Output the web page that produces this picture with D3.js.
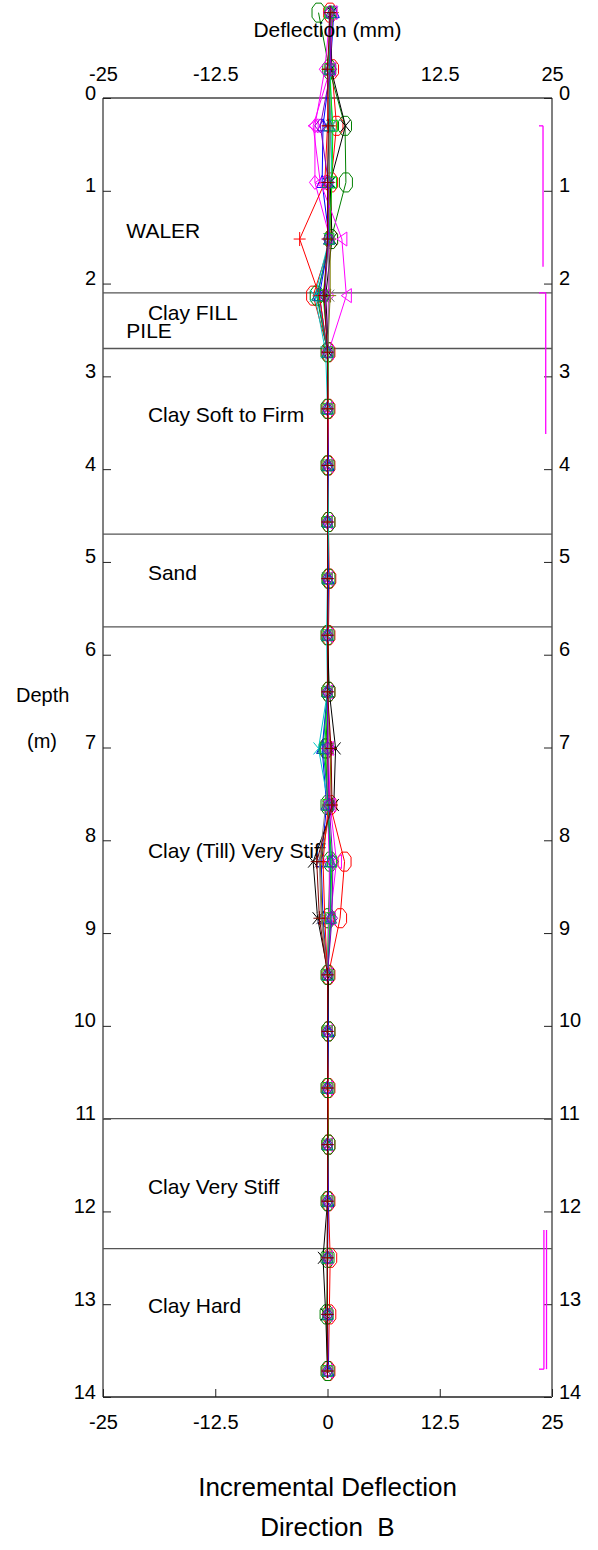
<!DOCTYPE html>
<html>
<head>
<meta charset="utf-8">
<script src="https://cdn.jsdelivr.net/npm/d3@7"></script>
<style>
  body { margin: 0; background: #fff; }
  text { font-family: "Liberation Sans", Arial, sans-serif; fill: #000; white-space: pre; }
</style>
</head>
<body>
<div id="chart"></div>
<script>
// depths of the probe readings (m)
var depth = [-0.92, -0.31, 0.30, 0.91, 1.52, 2.13, 2.74, 3.35, 3.96, 4.57, 5.18, 5.79, 6.40,
             7.01, 7.62, 8.23, 8.84, 9.45, 10.06, 10.67, 11.28, 11.89, 12.50, 13.11, 13.72];

// incremental deflection per reading (mm)
var redOct    = [0.3, 0.5, 1.0, 0.4, 0.4, -1.6, 0.1, 0.1, 0.1, 0.1, 0.2, 0.1, 0.1, -0.1, 0.3, 1.9, 1.4, 0.1, 0.1, 0.1, 0.1, 0.1, 0.3, 0.2, 0.1];
var greenOct  = [-1.0, 0.2, 1.95, 2.05, 0.4, -1.2, 0.0, 0.0, 0.0, 0.1, 0.1, 0.0, 0.1, -0.2, 0.0, 0.3, 0.1, 0.0, 0.1, 0.0, 0.1, 0.0, 0.0, -0.1, 0.0];
var blueTri   = [0.7, 0.3, -0.5, -0.6, 0.2, -0.9, 0.0, 0.0, 0.1, 0.0, 0.1, 0.0, 0.0, -0.6, -0.1, -0.7, -0.5, 0.0, 0.1, 0.0, 0.0, 0.1, 0.0, 0.0, 0.1];
var cyanX     = [0.6, 0.3, 0.5, 0.4, 0.2, -1.4, -0.2, 0.0, 0.0, 0.1, 0.0, -0.1, 0.0, -1.0, 0.1, 0.4, 0.2, 0.0, 0.0, 0.0, 0.0, 0.0, 0.0, 0.0, 0.0];
var magDiam   = [0.3, -0.3, -1.4, -1.4, 0.3, 0.1, 0.0, 0.0, 0.0, 0.0, 0.0, 0.0, 0.0, 0.1, 0.0, 0.2, 0.2, 0.0, 0.0, 0.0, 0.0, 0.0, 0.0, 0.0, 0.0];
var blackX    = [0.5, 0.4, 2.0, 0.3, 0.5, -0.2, 0.1, 0.0, 0.0, 0.0, 0.0, 0.0, 0.2, 0.9, 0.7, -1.6, -1.1, 0.1, 0.0, 0.0, 0.0, 0.0, -0.5, -0.2, 0.0];
var olivePlus = [0.6, 0.2, 0.3, 0.2, 0.3, 0.3, 0.0, 0.0, 0.0, 0.0, 0.0, 0.0, 0.0, 0.3, 0.4, -0.8, -0.6, 0.0, 0.0, 0.0, 0.0, 0.0, 0.0, 0.0, 0.0];
var redPlus   = [0.4, 0.1, 0.0, -0.3, -3.1, -0.9, 0.0, 0.0, 0.0, 0.0, 0.0, 0.0, 0.0, 0.0, 0.1, -0.5, -0.3, 0.0, 0.0, 0.0, 0.0, 0.0, 0.0, 0.0, 0.0];
var magTri    = [0.5, 0.3, -1.6, -0.8, 1.6, 2.1, 0.1, 0.0, 0.0, 0.0, 0.0, 0.0, 0.0, 0.1, 0.3, 1.0, 0.3, 0.0, 0.0, 0.0, 0.0, 0.0, 0.0, 0.0, 0.0];
var limeSq    = [0.2, 0.2, 0.6, 0.5, 0.2, -0.5, 0.1, 0.0, 0.0, 0.0, 0.0, 0.0, 0.0, -0.3, 0.0, 0.5, 0.3, 0.0, 0.0, 0.0, 0.0, 0.0, 0.0, 0.0, 0.0];
var greyX     = [0.3, 0.1, 0.4, 0.1, 0.1, 0.2, 0.0, 0.0, 0.0, 0.0, 0.0, 0.0, 0.0, 0.2, -0.2, -0.9, -0.7, 0.0, 0.0, 0.0, 0.0, 0.0, -0.1, 0.0, 0.0];
var tealTri   = [0.4, 0.2, 0.2, 0.0, 0.2, -1.1, 0.0, 0.0, 0.0, 0.0, 0.0, 0.0, 0.0, -0.5, 0.1, 0.3, 0.4, 0.0, 0.0, 0.0, 0.0, 0.0, 0.0, 0.0, 0.0];
var purpDiam  = [0.2, 0.4, -0.8, 0.1, 0.1, -0.3, 0.0, 0.0, 0.0, 0.0, 0.0, 0.0, 0.0, 0.0, 0.2, 0.6, 0.5, 0.0, 0.0, 0.0, 0.0, 0.0, 0.0, 0.0, 0.0];
var maroonPlus= [0.3, 0.0, 0.1, 0.0, 0.0, -0.4, 0.0, 0.0, 0.0, 0.0, 0.0, 0.0, 0.0, 0.4, 0.5, -1.2, -0.9, 0.0, 0.0, 0.0, 0.0, 0.0, 0.0, 0.0, 0.0];

// x axis ticks and depth ticks
var xTicks = [-25, -12.5, 0, 12.5, 25];
var yTicks = [0, 1, 2, 3, 4, 5, 6, 7, 8, 9, 10, 11, 12, 13, 14];

// soil layers
var layerBounds = [2.1, 2.7, 4.7, 5.7, 11.0, 12.4];
var layerNames  = ["WALER", "Clay FILL", "PILE", "Clay Soft to Firm", "Sand", "Clay (Till) Very Stiff", "Clay Very Stiff", "Clay Hard"];
var layerLabelDepth = [1.51, 2.39, 2.59, 3.49, 5.19, 8.19, 11.81, 13.09];
var layerLabelX     = [-22.4, -20, -22.4, -20, -20, -20, -20, -20];

// magenta range brackets on the right (m)
var bracketTop    = [0.30, 2.10, 12.20];
var bracketBottom = [1.82, 3.62, 13.70];
var bracketAt     = [24.0, 24.3, 24.1];

var series = [
  {v: redOct,     c: "#ff0000", m: "oct"},
  {v: greenOct,   c: "#008000", m: "oct"},
  {v: blueTri,    c: "#0000ff", m: "tri"},
  {v: cyanX,      c: "#00c8c8", m: "x"},
  {v: magDiam,    c: "#ff00ff", m: "diam"},
  {v: blackX,     c: "#000000", m: "x"},
  {v: olivePlus,  c: "#808000", m: "plus"},
  {v: redPlus,    c: "#ff0000", m: "plus"},
  {v: magTri,     c: "#ff00ff", m: "triL"},
  {v: limeSq,     c: "#00e000", m: "sq"},
  {v: greyX,      c: "#808080", m: "x"},
  {v: tealTri,    c: "#008080", m: "tri"},
  {v: purpDiam,   c: "#8000c0", m: "diam"},
  {v: maroonPlus, c: "#800000", m: "plus"}
];

var width = 598, height = 1550;
var svg = d3.select('#chart')
  .append('svg')
  .attr('width', width)
  .attr('height', height);

var pLeft = 103, pRight = 552, pTop = 98, pBottom = 1397;

var x = d3.scaleLinear().domain([-25, 25]).range([pLeft, pRight]);
var y = d3.scaleLinear().domain([0, 14]).range([pTop, pBottom]);

// frame
svg.append('line').attr('x1', pLeft).attr('x2', pRight).attr('y1', pTop).attr('y2', pTop)
  .attr('stroke', '#444').attr('stroke-width', 1.5);
svg.append('line').attr('x1', pLeft).attr('x2', pRight).attr('y1', pBottom).attr('y2', pBottom)
  .attr('stroke', '#222').attr('stroke-width', 1.5);
svg.append('line').attr('x1', pLeft).attr('x2', pLeft).attr('y1', pTop).attr('y2', pBottom)
  .attr('stroke', '#808080').attr('stroke-width', 2);
svg.append('line').attr('x1', pRight).attr('x2', pRight).attr('y1', pTop).attr('y2', pBottom)
  .attr('stroke', '#808080').attr('stroke-width', 2);

// axes
var fmt = function(d) { return String(d); };
var axisL = d3.axisLeft(y).tickValues(yTicks).tickFormat(fmt).tickSizeInner(-8).tickSizeOuter(0).tickPadding(7);
var axisR = d3.axisRight(y).tickValues(yTicks).tickFormat(fmt).tickSizeInner(-8).tickSizeOuter(0).tickPadding(7);
var axisB = d3.axisBottom(x).tickValues(xTicks).tickFormat(fmt).tickSizeInner(-8).tickSizeOuter(0).tickPadding(18);
var axisT = d3.axisTop(x).tickValues([-25, -12.5, 12.5, 25]).tickFormat(fmt).tickSizeInner(0).tickSizeOuter(0).tickPadding(17);

function styleAxis(g) {
  g.select('.domain').remove();
  g.selectAll('line').attr('stroke', '#222');
  g.selectAll('text').attr('font-size', 20).attr('fill', '#000')
    .style('font-family', '"Liberation Sans", Arial, sans-serif');
}
svg.append('g').attr('transform', 'translate(' + pLeft + ',0)').call(axisL).call(styleAxis)
  .selectAll('text').attr('dy', '0.05em');
svg.append('g').attr('transform', 'translate(' + pRight + ',0)').call(axisR).call(styleAxis)
  .selectAll('text').attr('dy', '0.05em');
svg.append('g').attr('transform', 'translate(0,' + pBottom + ')').call(axisB).call(styleAxis);
svg.append('g').attr('transform', 'translate(0,' + pTop + ')').call(axisT).call(styleAxis);

// layer boundaries
svg.selectAll('.layer').data(layerBounds).enter().append('line')
  .attr('x1', pLeft).attr('x2', pRight)
  .attr('y1', function(d) { return y(d); })
  .attr('y2', function(d) { return y(d); })
  .attr('stroke', '#555').attr('stroke-width', 1.3);

svg.selectAll('.lname').data(layerNames).enter().append('text')
  .attr('x', function(d, i) { return x(layerLabelX[i]); })
  .attr('y', function(d, i) { return y(layerLabelDepth[i]); })
  .attr('font-size', 21)
  .text(function(d) { return d; });

// brackets
bracketTop.forEach(function(t, i) {
  var bx = x(bracketAt[i]);
  svg.append('line').attr('x1', bx).attr('x2', bx).attr('y1', y(t)).attr('y2', y(bracketBottom[i]))
    .attr('stroke', '#ff00ff').attr('stroke-width', 1.3);
  var sy = i < 2 ? y(t) : y(bracketBottom[i]);
  svg.append('line').attr('x1', x(23.55)).attr('x2', bx).attr('y1', sy).attr('y2', sy)
    .attr('stroke', '#ff00ff').attr('stroke-width', 1.3);
  if (i == 2) {
    svg.append('line').attr('x1', bx + 2.6).attr('x2', bx + 2.6).attr('y1', y(t)).attr('y2', y(bracketBottom[i]))
      .attr('stroke', '#ff00ff').attr('stroke-width', 1.3);
  }
});

// marker shapes
function markerPath(m) {
  switch (m) {
    case 'oct':
      return 'M-2.7,-9.5L2.7,-9.5L6.5,-4.5L6.5,4.5L2.7,9.5L-2.7,9.5L-6.5,4.5L-6.5,-4.5Z';
    case 'x':
      return 'M-5,-6L5,6M-5,6L5,-6';
    case 'plus':
      return 'M-6,0L6,0M0,-7L0,7';
    case 'tri':
      return 'M0,-7L5.5,5L-5.5,5Z';
    case 'triL':
      return 'M-5,0L5,-7L5,7Z';
    case 'diam':
      return 'M0,-7L5.5,0L0,7L-5.5,0Z';
    case 'sq':
      return 'M-4.5,-5.5L4.5,-5.5L4.5,5.5L-4.5,5.5Z';
  }
}

var line = d3.line()
  .x(function(d) { return x(d); })
  .y(function(d, i) { return y(depth[i]); });

var gs = svg.selectAll('.series').data(series).enter().append('g');

gs.append('path')
  .attr('d', function(s) { return line(s.v); })
  .attr('fill', 'none')
  .attr('stroke', function(s) { return s.c; })
  .attr('stroke-width', 1);

gs.each(function(s) {
  d3.select(this).selectAll('.mk').data(s.v).enter().append('path')
    .attr('transform', function(d, i) { return 'translate(' + x(d) + ',' + y(depth[i]) + ')'; })
    .attr('d', markerPath(s.m))
    .attr('fill', 'none')
    .attr('stroke', s.c)
    .attr('stroke-width', 1);
});

// titles
svg.append('text').attr('x', 327.5).attr('y', 37).attr('text-anchor', 'middle')
  .attr('font-size', 21).text('Deflection (mm)');
svg.append('text').attr('x', 16).attr('y', 702).attr('font-size', 20).text('Depth');
svg.append('text').attr('x', 27).attr('y', 748).attr('font-size', 20).text('(m)');
svg.append('text').attr('x', 327.5).attr('y', 1496).attr('text-anchor', 'middle')
  .attr('font-size', 26).text('Incremental Deflection');
svg.append('text').attr('x', 327.5).attr('y', 1536).attr('text-anchor', 'middle')
  .attr('font-size', 26).text('Direction  B');
</script>
</body>
</html>
